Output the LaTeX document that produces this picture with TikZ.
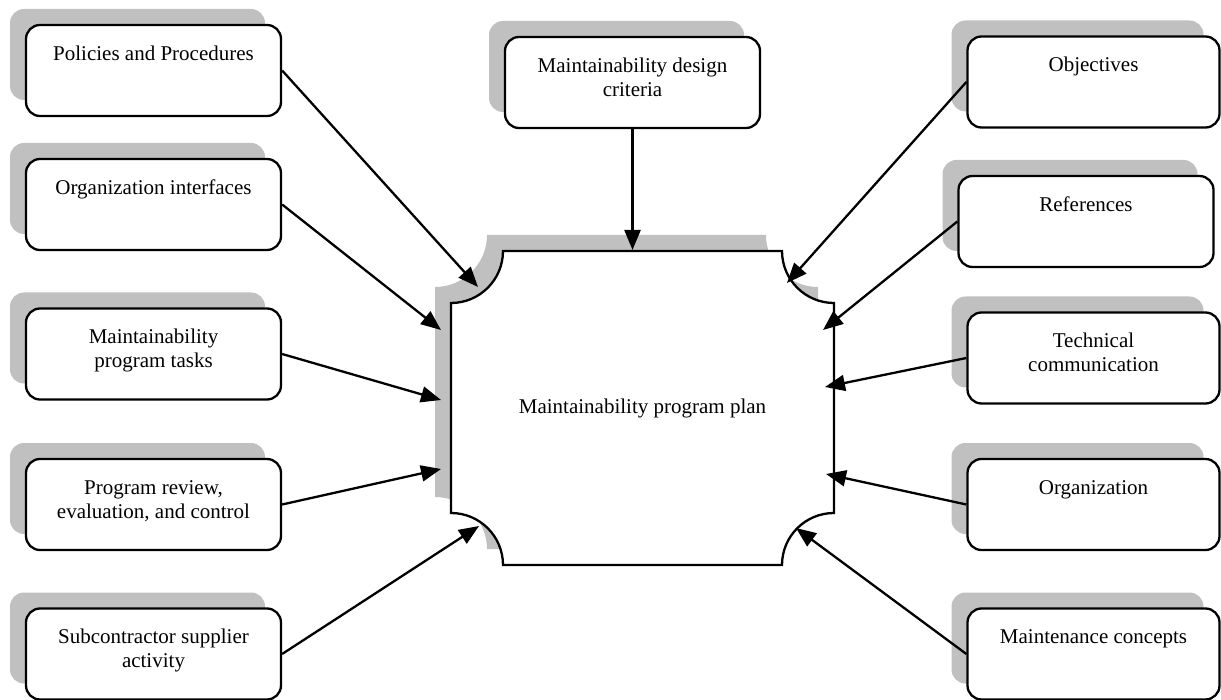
\documentclass[tikz,border=0pt]{standalone}
\usepackage{fontspec}
\setmainfont{Liberation Serif}
\usetikzlibrary{arrows.meta,shadows}
\definecolor{shgray}{HTML}{C0C0C0}
\newcommand{\st}{\rule{0pt}{16pt}}
\begin{document}
\begin{tikzpicture}[x=1pt,y=-1pt,
  box/.style={draw, line width=2.3pt, fill=white, rounded corners=14pt,
    minimum width=255pt, minimum height=91pt, inner sep=0pt,
    drop shadow={shadow xshift=-16pt, shadow yshift=16pt, fill=shgray, opacity=1}},
  rbox/.style={box, minimum width=252pt},
  lbl/.style={font=\fontsize{21}{24}\selectfont, align=center, anchor=north, inner sep=0pt},
  arr/.style={line width=2.3pt, -{Triangle[length=20pt,width=16pt]}},
  planline/.style={line width=2.3pt}
]
\useasboundingbox (0,0) rectangle (1221,700);

% central shape
\def\planpath{(503,251) -- (782,251) arc[start angle=180, end angle=90, radius=52]
  -- (834,513) arc[start angle=270, end angle=180, radius=52]
  -- (503,565) arc[start angle=0, end angle=-90, radius=52]
  -- (451,303) arc[start angle=90, end angle=0, radius=52] -- cycle}
\begin{scope}[shift={(-16,-16)}]
  \fill[shgray] \planpath;
\end{scope}
\draw[planline, fill=white] \planpath;
\node[font=\fontsize{21}{24}\selectfont, inner sep=0pt] (plan) at (642.5,408) {Maintainability program plan};

% left column
\node[box] (pol) at (153.5,70.5) {};
\node[lbl] at ([yshift=-20pt]pol.north) {\st Policies and Procedures};
\node[box] (oi) at (153.5,204.5) {};
\node[lbl] at ([yshift=-20pt]oi.north) {\st Organization interfaces};
\node[box] (mpt) at (153.5,354) {};
\node[lbl] at ([yshift=-20pt]mpt.north) {\st Maintainability\\program tasks};
\node[box] (prc) at (153.5,504.5) {};
\node[lbl] at ([yshift=-20pt]prc.north) {\st Program review,\\evaluation, and control};
\node[box] (sub) at (153.5,654) {};
\node[lbl] at ([yshift=-20pt]sub.north) {\st Subcontractor supplier\\activity};

% top
\node[box] (crit) at (632.5,82.5) {};
\node[lbl] at ([yshift=-20pt]crit.north) {\st Maintainability design\\criteria};

% right column
\node[rbox] (obj) at (1093.5,82) {};
\node[lbl] at ([yshift=-20pt]obj.north) {\st Objectives};
\node[box] (ref) at (1086,221.5) {};
\node[lbl] at ([yshift=-20pt]ref.north) {\st References};
\node[rbox] (tech) at (1093.5,358) {};
\node[lbl] at ([yshift=-20pt]tech.north) {\st Technical\\communication};
\node[rbox] (org) at (1093.5,504.5) {};
\node[lbl] at ([yshift=-20pt]org.north) {\st Organization};
\node[rbox] (mc) at (1093.5,654) {};
\node[lbl] at ([yshift=-20pt]mc.north) {\st Maintenance concepts};

% arrow end points on the plan shape
\coordinate (e1) at (478,287);
\coordinate (e2) at (441,330);
\coordinate (e3) at (441,400);
\coordinate (e4) at (441,469);
\coordinate (e5) at (479,526);
\coordinate (e6) at (632.5,250);
\coordinate (e7) at (787,283);
\coordinate (e8) at (823,330);
\coordinate (e9) at (825,387);
\coordinate (e10) at (826,474);
\coordinate (e11) at (796,528);

\draw[arr] (pol.east) -- (e1);
\draw[arr] (oi.east) -- (e2);
\draw[arr] (mpt.east) -- (e3);
\draw[arr] (prc.east) -- (e4);
\draw[arr] (sub.east) -- (e5);
\draw[arr] (crit.south) -- (e6);
\draw[arr] (obj.west) -- (e7);
\draw[arr] (ref.west) -- (e8);
\draw[arr] (tech.west) -- (e9);
\draw[arr] (org.west) -- (e10);
\draw[arr] (mc.west) -- (e11);
\end{tikzpicture}
\end{document}
